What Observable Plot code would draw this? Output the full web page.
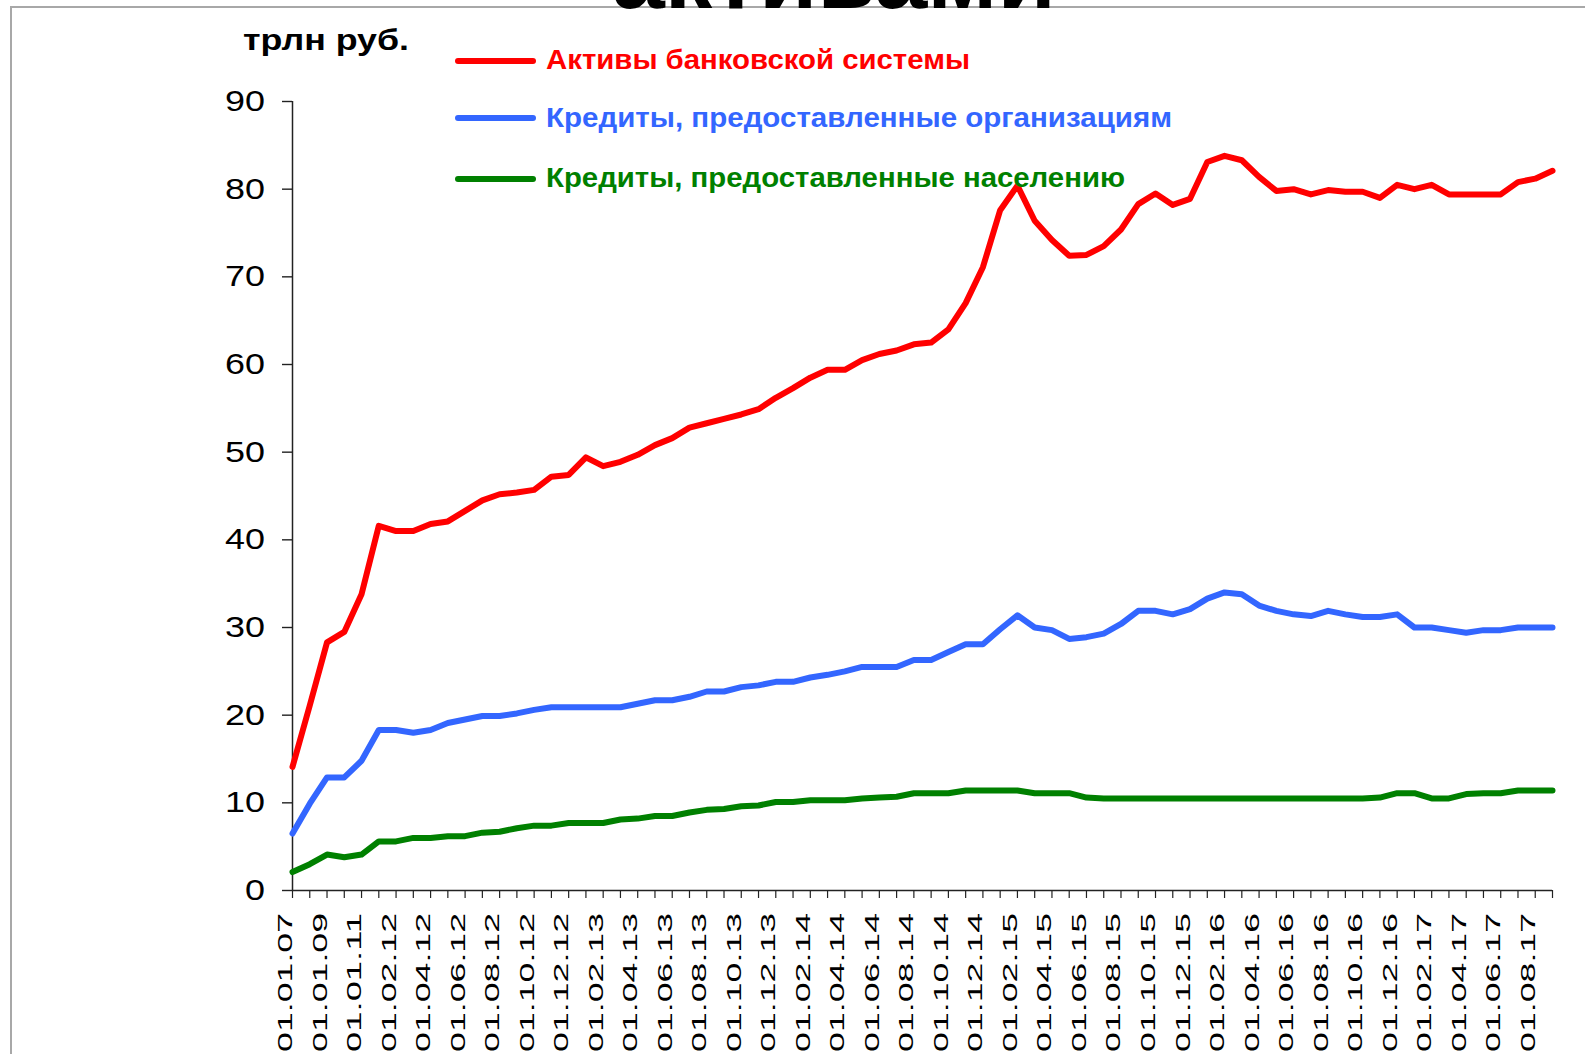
<!DOCTYPE html>
<html>
<head>
<meta charset="utf-8">
<script src="https://cdn.jsdelivr.net/npm/d3@7"></script>
<script src="https://cdn.jsdelivr.net/npm/@observablehq/plot@0.6"></script>
<style>
html, body { margin: 0; padding: 0; background: #fff; overflow: hidden; }
#wrap { position: relative; width: 1585px; height: 1054px; overflow: hidden; background: #fff;
  font-family: "Liberation Sans", Arial, sans-serif; }
#frame { position: absolute; left: 10px; top: 6px; width: 1640px; height: 1140px;
  border: 2px solid #a8a8a8; box-sizing: border-box; }
#chart { position: absolute; left: 0; top: 0; width: 1585px; }
#chart svg { max-width: none !important; }
.ov { position: absolute; white-space: nowrap; transform-origin: 0 50%; line-height: 1; }
#title { font-weight: bold; font-size: 92px; color: #000; }
#unit { font-weight: bold; font-size: 29px; color: #000; }
.sw { position: absolute; height: 6px; border-radius: 3px; }
.lt { font-weight: bold; font-size: 28px; }
</style>
</head>
<body>
<div id="wrap">
  <div id="frame"></div>
  <div id="chart"></div>
  <div id="title" class="ov">активами</div>
  <div id="unit" class="ov">трлн руб.</div>
  <div id="legend"></div>
</div>
<script>
// ---- data ----
const categories = [
  "01.01.07","01.01.08","01.01.09","01.01.10","01.01.11",
  "01.01.12","01.02.12","01.03.12","01.04.12","01.05.12","01.06.12","01.07.12","01.08.12","01.09.12","01.10.12","01.11.12","01.12.12",
  "01.01.13","01.02.13","01.03.13","01.04.13","01.05.13","01.06.13","01.07.13","01.08.13","01.09.13","01.10.13","01.11.13","01.12.13",
  "01.01.14","01.02.14","01.03.14","01.04.14","01.05.14","01.06.14","01.07.14","01.08.14","01.09.14","01.10.14","01.11.14","01.12.14",
  "01.01.15","01.02.15","01.03.15","01.04.15","01.05.15","01.06.15","01.07.15","01.08.15","01.09.15","01.10.15","01.11.15","01.12.15",
  "01.01.16","01.02.16","01.03.16","01.04.16","01.05.16","01.06.16","01.07.16","01.08.16","01.09.16","01.10.16","01.11.16","01.12.16",
  "01.01.17","01.02.17","01.03.17","01.04.17","01.05.17","01.06.17","01.07.17","01.08.17","01.09.17"
];
const tickLabels = [
  "01.01.07","01.01.09","01.01.11","01.02.12","01.04.12","01.06.12","01.08.12","01.10.12","01.12.12",
  "01.02.13","01.04.13","01.06.13","01.08.13","01.10.13","01.12.13",
  "01.02.14","01.04.14","01.06.14","01.08.14","01.10.14","01.12.14",
  "01.02.15","01.04.15","01.06.15","01.08.15","01.10.15","01.12.15",
  "01.02.16","01.04.16","01.06.16","01.08.16","01.10.16","01.12.16",
  "01.02.17","01.04.17","01.06.17","01.08.17"
];
const yTicks = [0, 10, 20, 30, 40, 50, 60, 70, 80, 90];

const assets = [
  14.1, 21.1, 28.3, 29.5, 33.8, 41.6, 41.0, 41.0, 41.8, 42.1,
  43.3, 44.5, 45.2, 45.4, 45.7, 47.2, 47.4, 49.4, 48.4, 48.9,
  49.7, 50.8, 51.6, 52.8, 53.3, 53.8, 54.3, 54.9, 56.2, 57.3,
  58.5, 59.4, 59.4, 60.5, 61.2, 61.6, 62.3, 62.5, 64.0, 67.0,
  71.1, 77.6, 80.4, 76.4, 74.2, 72.4, 72.5, 73.5, 75.4, 78.3,
  79.5, 78.2, 78.9, 83.1, 83.8, 83.3, 81.4, 79.8, 80.0, 79.4,
  79.9, 79.7, 79.7, 79.0, 80.5, 80.0, 80.5, 79.4, 79.4, 79.4,
  79.4, 80.8, 81.2, 82.1
];
const orgLoans = [
  6.5, 9.9, 12.9, 12.9, 14.8, 18.3, 18.3, 18.0, 18.3, 19.1,
  19.5, 19.9, 19.9, 20.2, 20.6, 20.9, 20.9, 20.9, 20.9, 20.9,
  21.3, 21.7, 21.7, 22.1, 22.7, 22.7, 23.2, 23.4, 23.8, 23.8,
  24.3, 24.6, 25.0, 25.5, 25.5, 25.5, 26.3, 26.3, 27.2, 28.1,
  28.1, 29.8, 31.4, 30.0, 29.7, 28.7, 28.9, 29.3, 30.4, 31.9,
  31.9, 31.5, 32.1, 33.3, 34.0, 33.8, 32.5, 31.9, 31.5, 31.3,
  31.9, 31.5, 31.2, 31.2, 31.5, 30.0, 30.0, 29.7, 29.4, 29.7,
  29.7, 30.0, 30.0, 30.0
];
const householdLoans = [
  2.1, 3.0, 4.1, 3.8, 4.1, 5.6, 5.6, 6.0, 6.0, 6.2,
  6.2, 6.6, 6.7, 7.1, 7.4, 7.4, 7.7, 7.7, 7.7, 8.1,
  8.2, 8.5, 8.5, 8.9, 9.2, 9.3, 9.6, 9.7, 10.1, 10.1,
  10.3, 10.3, 10.3, 10.5, 10.6, 10.7, 11.1, 11.1, 11.1, 11.4,
  11.4, 11.4, 11.4, 11.1, 11.1, 11.1, 10.6, 10.5, 10.5, 10.5,
  10.5, 10.5, 10.5, 10.5, 10.5, 10.5, 10.5, 10.5, 10.5, 10.5,
  10.5, 10.5, 10.5, 10.6, 11.1, 11.1, 10.5, 10.5, 11.0, 11.1,
  11.1, 11.4, 11.4, 11.4
];
const seriesNames = [
  "Активы банковской системы",
  "Кредиты, предоставленные организациям",
  "Кредиты, предоставленные населению"
];
const seriesColors = ["#ff0000", "#3366ff", "#008000"];
const seriesValues = [assets, orgLoans, householdLoans];
const titleText = "активами";
const unitText = "трлн руб.";

// ---- layout ----
const W = 1585, H = 1054;
const M = {left: 292, right: 33, top: 101, bottom: 164};
const yTickSize = 10, yTickPad = 17;
const xLabelTop = 913, xLabelLen = 139;
const labelSet = new Set(tickLabels);
const font = "'Liberation Sans', Arial, sans-serif";

const lineMarks = seriesValues.map((vals, s) =>
  Plot.line(categories, {
    x: d => d,
    y: (d, i) => vals[i],
    stroke: seriesColors[s],
    strokeWidth: 6,
    strokeLinejoin: "round",
    strokeLinecap: "round"
  })
);

const plot = Plot.plot({
  width: W,
  height: H,
  marginLeft: M.left,
  marginRight: M.right,
  marginTop: M.top,
  marginBottom: M.bottom,
  style: {fontFamily: font, background: "transparent", overflow: "visible", color: "#000"},
  x: {type: "point", domain: categories, padding: 0, round: false},
  y: {domain: [0, 90]},
  marks: [
    Plot.axisY({ticks: yTicks, tickSize: yTickSize, tickPadding: yTickPad, fontSize: 29,
      label: null, stroke: "#222", strokeWidth: 1.4, fill: "#000"}),
    Plot.axisX({ticks: categories, tickSize: 8, tickRotate: -90, fontSize: 20,
      tickFormat: d => labelSet.has(d) ? d : "", label: null, stroke: "#222", strokeWidth: 1.2, fill: "#000"}),
    Plot.ruleY([0], {stroke: "#222", strokeWidth: 1.5}),
    Plot.ruleX([categories[0]], {stroke: "#222", strokeWidth: 1.5}),
    ...lineMarks
  ]
});
document.getElementById("chart").append(plot);

const xs = plot.scale("x"), ys = plot.scale("y");
function fixLabels() {
  plot.querySelectorAll('g[aria-label="x-axis tick label"]').forEach(g => g.removeAttribute("transform"));
  plot.querySelectorAll('g[aria-label="x-axis tick label"] text').forEach(t => {
    const s = t.textContent;
    if (!s) return;
    const X = xs.apply(s);
    t.removeAttribute("x"); t.removeAttribute("y");
    t.setAttribute("dy", "0");
    t.setAttribute("text-anchor", "end");
    t.setAttribute("transform", `translate(${X},${xLabelTop}) rotate(-90)`);
    const len = t.getComputedTextLength();
    t.setAttribute("transform", `translate(${X},${xLabelTop}) rotate(-90) scale(${xLabelLen / len},1)`);
  });
  plot.querySelectorAll('g[aria-label="y-axis tick label"]').forEach(g => g.removeAttribute("transform"));
  plot.querySelectorAll('g[aria-label="y-axis tick label"] text').forEach(t => {
    const v = +t.textContent;
    const Y = ys.apply(v);
    t.removeAttribute("x"); t.removeAttribute("y");
    t.setAttribute("dy", "0.34em");
    t.setAttribute("text-anchor", "end");
    t.setAttribute("transform", `translate(${M.left - yTickSize - yTickPad},${Y}) scale(1.24,1)`);
  });
}
fixLabels();

// ---- overlays: title, unit, legend ----
function place(el, left, top, targetW) {
  el.style.left = left + "px";
  el.style.top = top + "px";
  el.style.transform = "none";
  const w = el.getBoundingClientRect().width;
  el.style.transform = `scaleX(${targetW / w})`;
}
const titleEl = document.getElementById("title");
titleEl.textContent = titleText;
const unitEl = document.getElementById("unit");
unitEl.textContent = unitText;

const legend = document.getElementById("legend");
const legendY = [60.6, 118.3, 179];
const legendW = [424, 626, 579];
const legendEls = seriesNames.map((name, s) => {
  const sw = document.createElement("div");
  sw.className = "sw";
  sw.style.left = "455px";
  sw.style.width = "81px";
  sw.style.top = (legendY[s] - 3) + "px";
  sw.style.background = seriesColors[s];
  legend.append(sw);
  const t = document.createElement("div");
  t.className = "ov lt";
  t.style.color = seriesColors[s];
  t.textContent = name;
  legend.append(t);
  return t;
});

function layoutOverlays() {
  place(titleEl, 612, 8 - 0.8465 * 92, 444);
  place(unitEl, 243, 50.5 - 0.8465 * 29, 166);
  legendEls.forEach((t, s) => place(t, 546, legendY[s] - 1 - 0.4885 * 28, legendW[s]));
}
layoutOverlays();
if (document.fonts && document.fonts.ready) document.fonts.ready.then(() => { layoutOverlays(); fixLabels(); });
</script>
</body>
</html>
